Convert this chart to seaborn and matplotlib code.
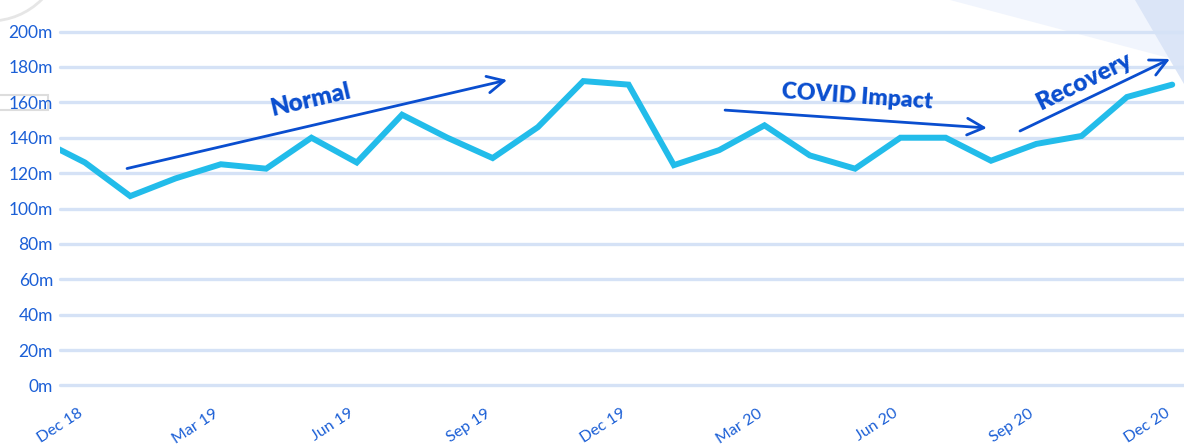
import matplotlib
matplotlib.use("Agg")
import matplotlib.pyplot as plt
from matplotlib import font_manager as fm
from matplotlib.patches import Polygon, Circle, Rectangle
import seaborn as sns
import pandas as pd

# ---- data ----
months = ["Nov 18", "Dec 18", "Jan 19", "Feb 19", "Mar 19", "Apr 19", "May 19", "Jun 19",
          "Jul 19", "Aug 19", "Sep 19", "Oct 19", "Nov 19", "Dec 19", "Jan 20", "Feb 20",
          "Mar 20", "Apr 20", "May 20", "Jun 20", "Jul 20", "Aug 20", "Sep 20", "Oct 20",
          "Nov 20", "Dec 20"]
values = [139, 126, 107, 117, 125, 122.5, 140, 126, 153, 140, 128.5, 146, 172, 170,
          124.5, 133, 147, 130, 122.5, 140, 140, 127, 136.5, 141, 163, 170]
tick_labels = ["Dec 18", "Mar 19", "Jun 19", "Sep 19", "Dec 19", "Mar 20", "Jun 20", "Sep 20", "Dec 20"]
y_ticks = [0, 20, 40, 60, 80, 100, 120, 140, 160, 180, 200]
annotations = ["Normal", "COVID Impact", "Recovery"]

sns.set_theme(style="white")


def pick(name, fallback="DejaVu Sans"):
    try:
        fm.findfont(fm.FontProperties(family=name), fallback_to_default=False)
        return name
    except Exception:
        return fallback


FONT = pick("Lato", "Open Sans")
plt.rcParams["font.family"] = [FONT, "DejaVu Sans"]

BLUE_TXT = "#1b5fd6"
ARROW = "#0a4ecf"
LINE = "#22bcea"
GRID = "#d5e2f6"

W, H = 1184, 445
fig = plt.figure(figsize=(W / 100, H / 100), dpi=100)


def px(x, y):
    return (x / W, 1 - y / H)


# background decorations (figure pixel space)
fig.patches.append(Polygon([px(950, 0), px(1184, 0), px(1184, 62)], closed=True,
                           transform=fig.transFigure, facecolor="#f1f5fd", edgecolor="none", zorder=0))
fig.patches.append(Polygon([px(1135, 0), px(1184, 0), px(1184, 84)], closed=True,
                           transform=fig.transFigure, facecolor="#dbe5f7", edgecolor="none", zorder=0))
deco = fig.add_axes([0, 0, 1, 1], zorder=0)
deco.set_xlim(0, W)
deco.set_ylim(H, 0)
deco.axis("off")
deco.add_patch(Circle((-10, -52), 73, facecolor="none", edgecolor="#e6e6e6", lw=2))
deco.add_patch(Rectangle((-5, 95), 53, 15, facecolor="none", edgecolor="#dddddd", lw=1.5))

df = pd.DataFrame({"idx": range(len(months)), "month": months, "value": values})
df["idx"] = df["idx"] - 1  # Dec 18 at position 0

ax = fig.add_axes([60 / W, (H - 389) / H, 1 - 60 / W, 361 / H], zorder=1)
ax.set_facecolor("none")
for yv in y_ticks:
    ax.axhline(yv, color=GRID, lw=2.4, zorder=1, clip_on=False)

sns.lineplot(data=df, x="idx", y="value", ax=ax, color=LINE, lw=4.3, zorder=3,
             solid_joinstyle="miter")

ax.set_xlim(-0.55, 24.26)
ax.set_ylim(-2, 202)
ax.set_yticks(y_ticks)
ax.set_yticklabels([f"{v}m" for v in y_ticks], color=BLUE_TXT, fontsize=12.5)
ax.set_xticks([3 * i for i in range(len(tick_labels))])
ax.set_xticklabels(tick_labels, color=BLUE_TXT, fontsize=11.5, rotation=33,
                   ha="right", va="bottom", rotation_mode="anchor")
ax.tick_params(axis="y", length=0, pad=5)
ax.tick_params(axis="x", length=0, pad=21)
ax.set_xlabel("")
ax.set_ylabel("")
for s in ax.spines.values():
    s.set_visible(False)
ax.grid(False)

arrow_kw = dict(arrowstyle="->,head_length=1.0,head_width=0.5", color=ARROW, lw=2.0,
                shrinkA=0, shrinkB=0)
ax.annotate("", xy=(9.32, 172.6), xytext=(0.93, 122.6), arrowprops=arrow_kw, zorder=4)
ax.annotate("", xy=(19.91, 145.5), xytext=(14.13, 155.6), arrowprops=arrow_kw, zorder=4)
ax.annotate("", xy=(23.95, 184.5), xytext=(20.64, 143.8), arrowprops=arrow_kw, zorder=4)

tkw = dict(color=ARROW, fontweight="heavy", ha="center", va="center", zorder=4)
ax.text(4.97, 161.5, annotations[0], rotation=13, fontsize=17.5, **tkw)
ax.text(17.04, 163, annotations[1], rotation=-4, fontsize=16.5, **tkw)
ax.text(22.05, 172, annotations[2], rotation=26, fontsize=17.5, **tkw)

fig.savefig("out.png", dpi=100)
